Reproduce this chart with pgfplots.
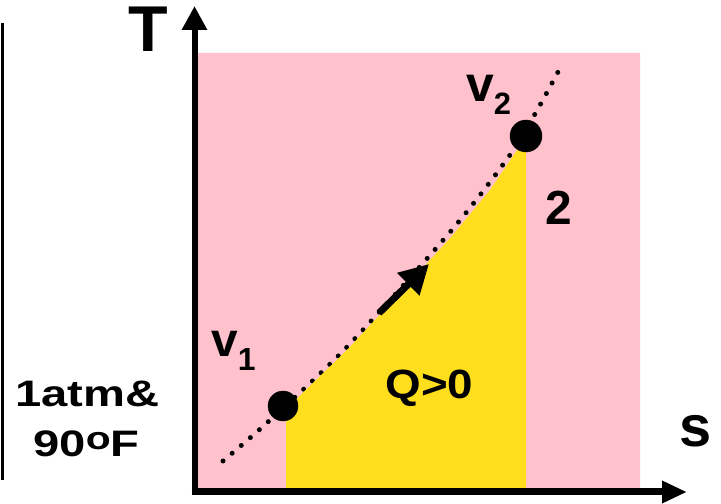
\documentclass[border=0pt]{standalone}
\usepackage{pgfplots}
\pgfplotsset{compat=1.18}
\usepackage{fontspec}
\setmainfont{Liberation Sans}
\usetikzlibrary{arrows.meta}
\definecolor{pinkbg}{RGB}{255,193,204}
\definecolor{yel}{RGB}{255,222,30}
\begin{document}
\begin{tikzpicture}
\begin{axis}[
  name=main,
  scale only axis, width=721bp, height=504bp,
  xmin=0, xmax=721, ymin=0, ymax=504,
  hide axis, clip=false,
]
% pink background
\addplot[fill=pinkbg, draw=none] coordinates {(198,16) (640,16) (640,451) (198,451) (198,16)};
% dotted process curve
\addplot[line width=5bp, line cap=round, dash pattern=on 0bp off 12bp, smooth, black]
  coordinates {(223,43) (269,83) (347,157) (451,273) (510,349) (535,390) (558,432)};
% state points
\addplot[only marks, mark=*, mark size=15bp, black] coordinates {(283,98)};
\addplot[only marks, mark=*, mark size=16bp, black] coordinates {(526,368)};
% heat area
\addplot[fill=yel, draw=none] coordinates {(286,16) (286,95) (315,123) (347,154) (400,211) (452,268) (490,314) (526,367) (526,16) (286,16)};
% direction arrow
\addplot[line width=7bp, black, -{Triangle[length=29bp,width=30bp]}] coordinates {(379,191) (429,240)};
% axes
\addplot[line width=6bp, black, -{Triangle[length=24bp,width=24bp]}] coordinates {(194.5,8.5) (194.5,498)};
\addplot[line width=7bp, black, -{Triangle[length=25bp,width=21bp]}] coordinates {(191.5,12) (687,12)};
% left line
\addplot[line width=3bp, black] coordinates {(2,24) (2,481)};
% texts
\node[anchor=base, inner sep=0] at (axis cs:148.5,452) {\fontsize{65}{65}\selectfont\bfseries T};
\node[anchor=base, inner sep=0] at (axis cs:696,57) {\fontsize{58}{58}\selectfont\bfseries s};
\node[anchor=base west, inner sep=0] at (axis cs:211,147) {\fontsize{48}{48}\selectfont\bfseries v\raisebox{-14bp}{\fontsize{32}{32}\selectfont 1}};
\node[anchor=base west, inner sep=0] at (axis cs:466,402) {\fontsize{50}{50}\selectfont\bfseries v\raisebox{-13bp}{\fontsize{31}{31}\selectfont 2}};
\node[anchor=base, inner sep=0] at (axis cs:558.5,279) {\fontsize{48}{48}\selectfont\bfseries 2};
\node[anchor=base, inner sep=0] at (axis cs:429.5,105) {\scalebox{1.12}[1]{\fontsize{41}{41}\selectfont\bfseries Q>0}};
\node[anchor=base, inner sep=0] at (axis cs:87.5,97) {\scalebox{1.28}[1]{\fontsize{37}{37}\selectfont\bfseries 1atm\&}};
\node[anchor=base, inner sep=0] at (axis cs:86.5,47) {\scalebox{1.28}[1]{\fontsize{37}{37}\selectfont\bfseries 90\raisebox{7bp}{\fontsize{32}{32}\selectfont o}F}};
\end{axis}
\path[use as bounding box] (main.south west) rectangle (main.north east);
\end{tikzpicture}
\end{document}
